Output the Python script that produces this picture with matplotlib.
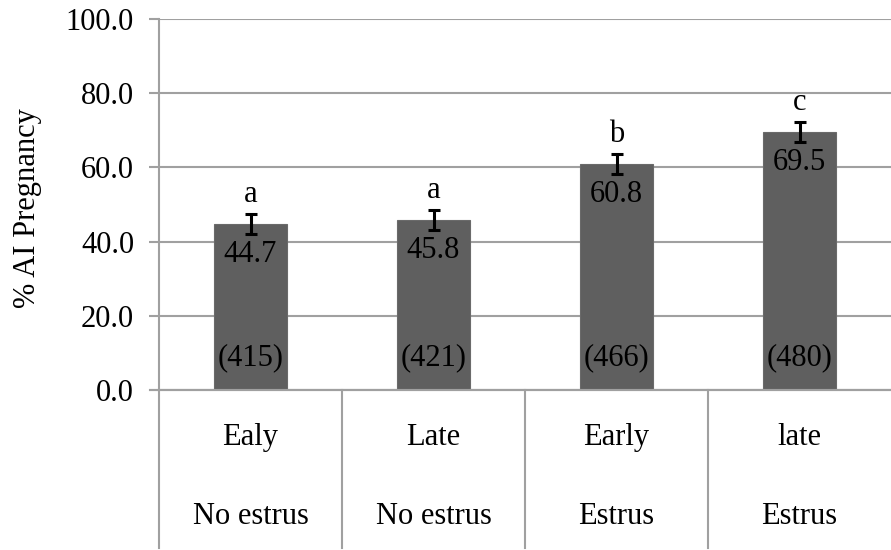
import numpy as np
import matplotlib.pyplot as plt

# AI pregnancy rate by timing and estrus expression
timing = ["Ealy", "Late", "Early", "late"]
estrus = ["No estrus", "No estrus", "Estrus", "Estrus"]
pregnancy = [44.7, 45.8, 60.8, 69.5]
sem = [2.7, 2.7, 2.7, 2.7]
n_cows = ["(415)", "(421)", "(466)", "(480)"]
letters = ["a", "a", "b", "c"]

plt.rcParams['font.family'] = ['Liberation Serif', 'DejaVu Serif']
plt.rcParams['font.size'] = 22

fig = plt.figure(figsize=(8.91, 5.5), dpi=100)
ax = fig.add_axes([0.1785, 0.2909, 0.8215, 0.6746])

grid_c = "#a0a0a0"
x = np.arange(len(pregnancy))
ax.bar(x, pregnancy, width=0.4, color="#5f5f5f", edgecolor="#6a6a6a", linewidth=0.8, zorder=2)
ax.errorbar(x, pregnancy, yerr=sem, fmt="none", ecolor="black", elinewidth=2.2,
            capsize=4.5, capthick=2.2, zorder=3)

for xi, v, e, lab, n in zip(x, pregnancy, sem, letters, n_cows):
    ax.annotate(f"{v:.1f}", (xi, v), xytext=(0, -22), textcoords="offset points",
                ha="center", va="center", zorder=4)
    ax.annotate(lab, (xi, v + e), xytext=(0, 14), textcoords="offset points",
                ha="center", va="center", zorder=4)
    ax.text(xi, 8.6, n, ha="center", va="center", zorder=4)

ax.set_xlim(-0.5, 3.5)
ax.set_ylim(0, 100)
ax.set_yticks(np.arange(0, 101, 20))
ax.set_yticklabels([f"{t:.1f}" for t in np.arange(0, 101, 20)])
ax.yaxis.grid(True, color=grid_c, linewidth=1.5, zorder=0)
ax.set_axisbelow(True)
ax.tick_params(axis="y", length=7, width=1.5, color=grid_c, pad=11)
ax.tick_params(axis="x", length=0, labelbottom=False)
ax.set_ylabel("% AI Pregnancy")
ax.yaxis.set_label_coords(-0.160, 0.49)

for side in ["top", "right"]:
    ax.spines[side].set_visible(False)
ax.spines["left"].set_color(grid_c)
ax.spines["left"].set_linewidth(1.5)
ax.spines["bottom"].set_color(grid_c)
ax.spines["bottom"].set_linewidth(1.5)

# two-level category axis below the plot
trans = ax.get_xaxis_transform()
ax.plot([-0.5, -0.5], [0, -0.426], transform=trans, color=grid_c, lw=1.5, clip_on=False)
ax.plot([-0.55, 3.5], [0, 0], transform=trans, color=grid_c, lw=1.5, clip_on=False)
for sep in [0.5, 1.5, 2.5]:
    ax.plot([sep, sep], [0, -0.426], transform=trans, color=grid_c, lw=1.5, clip_on=False)
for xi, t, s in zip(x, timing, estrus):
    ax.text(xi, -0.129, t, transform=trans, ha="center", va="center")
    ax.text(xi, -0.342, s, transform=trans, ha="center", va="center")

fig.savefig("out.png", dpi=100)
